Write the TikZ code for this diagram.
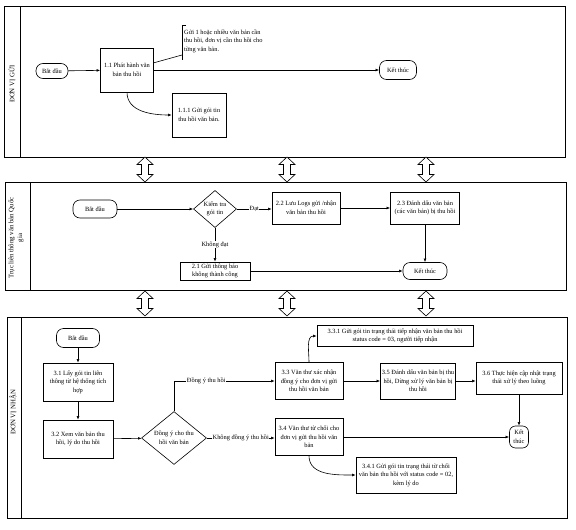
\documentclass[tikz,border=0pt]{standalone}
\usepackage{fontspec}
\setmainfont{Liberation Serif}
\usetikzlibrary{shapes.geometric,shapes.misc,arrows.meta,calc}
\newcommand{\fs}{\fontsize{6.4}{8.6}\selectfont}
\newcommand{\fl}{\fontsize{6.8}{8.6}\selectfont}
\tikzset{
  lane/.style={draw, line width=0.7pt},
  box/.style={draw, fill=white, rectangle, align=center, inner sep=1pt, font=\fs, line width=0.6pt},
  pill/.style={draw, fill=white, rectangle, rounded corners=7pt, align=center, inner sep=1pt, font=\fs, line width=0.6pt},
  dia/.style={draw, fill=white, diamond, align=center, inner sep=0pt, font=\fs, line width=0.6pt},
  lbl/.style={fill=white, inner sep=0.6pt, font=\fs},
  arr/.style={-{Latex[length=3.6pt,width=2.8pt]}, line width=0.6pt},
  plain/.style={line width=0.6pt},
  lanelabel/.style={rotate=90, align=center, font=\fl},
  dblarrow/.pic={\draw[fill=white, line width=0.6pt] (0,-12.5) -- (8,-5) -- (3.5,-5) -- (3.5,5) -- (8,5) -- (0,12.5) -- (-8,5) -- (-3.5,5) -- (-3.5,-5) -- (-8,-5) -- cycle;}
}
\begin{document}
\begin{tikzpicture}[x=1pt,y=-1pt]
\useasboundingbox (0,0) rectangle (576,530);
% lanes
\draw[lane] (4,6) rectangle (565,157);
\draw[lane] (20,6) -- (20,157);
\node[lanelabel] (L1) at (12,84) {ĐƠN VỊ GỬI};
\draw[lane] (5,182) rectangle (566,290);
\draw[lane] (30,182) -- (30,290);
\node[lanelabel] (L2) at (16,238) {Trục liên thông văn bản Quốc\\gia};
\draw[lane] (7,317) rectangle (567,518);
\draw[lane] (21,317) -- (21,518);
\node[lanelabel] (L3) at (13,412) {ĐƠN VỊ NHẬN};
% double arrows
\foreach \xx in {145,287,426} {
  \pic at (\xx,169.5) {dblarrow};
  \pic at (\xx,303.5) {dblarrow};
}
% lane 1
\node[pill, minimum width=32pt, minimum height=15pt] (s1) at (52,71) {Bắt đầu};
\node[box, minimum width=53pt, minimum height=44pt] (b11) at (127,70) {1.1 Phát hành văn\\bản thu hồi};
\node[pill, minimum width=37pt, minimum height=19pt] (e1) at (398,70) {Kết thúc};
\node[box, minimum width=54pt, minimum height=44pt] (b111) at (199,115) {1.1.1 Gửi gói tin\\thu hồi văn bản.};
\node[font=\fs, align=left, anchor=west, inner sep=0pt] (note) at (184,41) {Gửi 1 hoặc nhiều văn bản cần\\thu hồi, đơn vị cần thu hồi cho\\từng văn bản.};
\coordinate (nbt) at (182,25);
\coordinate (nbb) at (182,60);
\coordinate (nbm) at (182,55);
\draw[plain] ($(nbt)+(4,0)$) -- (nbt) -- (nbb);
\draw[plain] (b11.15) -- (nbm);
\draw[arr] (s1) -- (b11);
\draw[arr] (b11) -- (e1);
\draw[arr] (b11.south) to[out=-90,in=180] (b111.west);
% lane 2
\node[pill, minimum width=44pt, minimum height=18pt] (s2) at (95,209) {Bắt đầu};
\node[dia, minimum width=43pt, minimum height=32pt] (k2) at (215,209) {Kiểm tra\\gói tin};
\node[box, minimum width=68pt, minimum height=32pt] (b22) at (306,208) {2.2 Lưu Logs gửi /nhận\\văn bản thu hồi};
\node[box, minimum width=69pt, minimum height=32pt] (b23) at (425,208) {2.3 Đánh dấu văn bản\\(các văn bản) bị thu hồi};
\node[box, minimum width=70pt, minimum height=18pt] (b21) at (215,271) {2.1 Gửi thông báo\\không thành công};
\node[pill, minimum width=44pt, minimum height=17pt] (e2) at (425,271) {Kết thúc};
\draw[arr] (s2) -- (k2);
\draw[arr] (k2.east) -- node[lbl] {Đạt} (b22.west |- k2.east);
\draw[arr] (b22) -- (b23);
\draw[arr] (k2) -- node[lbl] {Không đạt} (b21);
\draw[arr] (b23) -- (e2);
\draw[arr] (b21) -- (e2);
% lane 3
\node[pill, minimum width=43pt, minimum height=19pt] (s3) at (78,338) {Bắt đầu};
\node[box, minimum width=70pt, minimum height=38pt] (b31) at (78,382) {3.1 Lấy gói tin liên\\thông từ hệ thống tích\\hợp};
\node[box, minimum width=70pt, minimum height=38pt] (b32) at (78,439) {3.2 Xem văn bản thu\\hồi, lý do thu hồi};
\node[dia, minimum width=65pt, minimum height=43pt] (d3) at (174,438) {Đồng ý cho thu\\hồi văn bản};
\node[box, minimum width=68pt, minimum height=37pt] (b33) at (309,381) {3.3 Văn thư xác nhận\\đồng ý cho đơn vị gửi\\thu hồi văn bản};
\node[box, minimum width=156pt, minimum height=21pt] (b331) at (395,336) {3.3.1 Gửi gói tin trạng thái tiếp nhận văn bản thu hồi\\status code = 03, người tiếp nhận};
\node[box, minimum width=75pt, minimum height=36pt] (b35) at (418,381) {3.5 Đánh dấu văn bản bị thu\\hồi, Dừng xử lý văn bản bị\\thu hồi};
\node[box, minimum width=86pt, minimum height=32pt] (b36) at (519,378) {3.6 Thực hiện cập nhật trạng\\thái xử lý theo luồng};
\node[pill, rounded corners=6pt, minimum width=19pt, minimum height=22pt] (e3) at (519,437) {Kết\\thúc};
\node[box, minimum width=68pt, minimum height=37pt] (b34) at (309,437) {3.4 Văn thư từ chối cho\\đơn vị gửi thu hồi văn\\bản};
\node[box, minimum width=100pt, minimum height=36pt] (b341) at (406,475) {3.4.1 Gửi gói tin trạng thái từ chối\\văn bản thu hồi với status code = 02,\\kèm lý do};
\draw[arr] (s3) -- (b31);
\draw[arr] (b31) -- (b32);
\draw[arr] (b32) -- (d3);
\draw[arr] (d3.north) |- node[lbl, pos=0.66] {Đồng ý thu hồi} (b33.west);
\draw[arr] (d3.east) -- node[lbl] {Không đồng ý thu hồi} (b34.west |- d3.east);
\draw[arr] (b33.north) to[out=90,in=180] (b331.west);
\draw[arr] (b33) -- (b35);
\draw[arr] (b35.east) -- (b35.east -| b36.west);
\draw[arr] (b36) -- (e3);
\draw[arr] (b34) -- (e3);
\draw[arr] (b34.south) to[out=-90,in=180] (b341.west);
\end{tikzpicture}
\end{document}
